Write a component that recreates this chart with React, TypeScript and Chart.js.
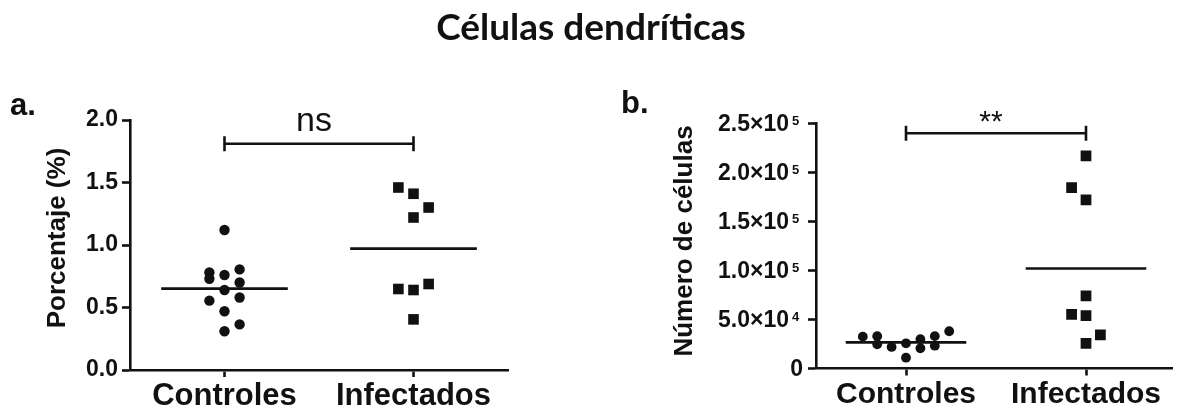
import { useEffect, useRef } from 'react';
import { Chart, registerables } from 'chart.js';

Chart.register(...registerables);

const W = 1180;
const H = 412;
const INK = '#111111';
const SANS = '"Liberation Sans", Arial, Helvetica, sans-serif';

const chartTitle = 'Células dendríticas';
const groups = ['Controles', 'Infectados'];

// a. Porcentaje (%) de células dendríticas
const pctControles = [1.12, 0.78, 0.73, 0.76, 0.805, 0.7, 0.64, 0.555, 0.58, 0.47, 0.365, 0.31];
const pctControlesCol = [0, -1, -1, 0, 1, 1, 0, -1, 1, 0, 1, 0];
const pctInfectados = [1.46, 1.41, 1.3, 1.22, 0.648, 0.64, 0.688, 0.405];
const pctInfectadosCol = [-1, 0, 1, 0, -1, 0, 1, 0];
const pctTicks = [0, 0.5, 1.0, 1.5, 2.0];
const pctTickLabels = ['0.0', '0.5', '1.0', '1.5', '2.0'];
const pctBracket = 1.81;
const pctSignif = 'ns';

// b. Número de células
const numControles = [32500, 33000, 24700, 22000, 25700, 11000, 30000, 20600, 33000, 23300, 38000];
const numControlesCol = [-3, -2, -2, -1, 0, 0, 1, 1, 2, 2, 3];
const numInfectados = [217000, 184500, 172000, 74000, 55300, 54000, 34200, 25700];
const numInfectadosCol = [0, -1, 0, 0, -1, 0, 1, 0];
const numTicks = [0, 50000, 100000, 150000, 200000, 250000];
const numTickMantissa = ['0', '5.0×10', '1.0×10', '1.5×10', '2.0×10', '2.5×10'];
const numTickExponent = ['', '4', '5', '5', '5', '5'];
const numBracket = 240000;
const numSignif = '**';

const mean = (xs: number[]) => xs.reduce((s, v) => s + v, 0) / xs.length;

type Panel = {
  controls: number[];
  controlsCol: number[];
  infected: number[];
  infectedCol: number[];
  yMax: number;
  yTicks: number[];
  yTickText: (i: number) => string;
  bracket: number;
  bracketText: string;
  bracketFont: string;
  bracketGap: number;
  area: { left: number; right: number; top: number; bottom: number };
  xMin: number;
  xMax: number;
  xFontSize: number;
  circleR: number;
  squareR: number;
  yTitle: string;
  yTitleX: number;
  yTitleY: number;
  letter: string;
  letterX: number;
  letterY: number;
  extra?: (ctx: CanvasRenderingContext2D, chart: any) => void;
};

const SLOT = 0.08; // horizontal spread between stacked points (category units)
const HALF_MEAN = 0.335; // half length of the mean bar (category units)

function buildChart(canvas: HTMLCanvasElement, p: Panel) {
  const pts = (vals: number[], cols: number[], center: number) =>
    vals.map((v, i) => ({ x: center + cols[i] * SLOT, y: v }));
  const meanLine = (vals: number[], center: number) => [
    { x: center - HALF_MEAN, y: mean(vals) },
    { x: center + HALF_MEAN, y: mean(vals) },
  ];

  const overlay = {
    id: 'overlay',
    afterDraw(chart: any) {
      const { ctx, scales } = chart;
      const x = scales.x;
      const y = scales.y;
      ctx.save();
      ctx.fillStyle = INK;
      ctx.strokeStyle = INK;

      // significance bracket
      const x0 = x.getPixelForValue(0);
      const x1 = x.getPixelForValue(1);
      const yb = y.getPixelForValue(p.bracket);
      ctx.lineWidth = 2.6;
      ctx.beginPath();
      ctx.moveTo(x0, yb);
      ctx.lineTo(x1, yb);
      ctx.moveTo(x0, yb - 7.5);
      ctx.lineTo(x0, yb + 7.5);
      ctx.moveTo(x1, yb - 7.5);
      ctx.lineTo(x1, yb + 7.5);
      ctx.stroke();
      ctx.font = p.bracketFont;
      ctx.textAlign = 'center';
      ctx.textBaseline = 'alphabetic';
      ctx.fillText(p.bracketText, (x0 + x1) / 2 - 5, yb - p.bracketGap);

      // y axis title
      ctx.save();
      ctx.translate(p.yTitleX, p.yTitleY);
      ctx.rotate(-Math.PI / 2);
      ctx.font = `bold 26px ${SANS}`;
      ctx.textAlign = 'center';
      ctx.textBaseline = 'middle';
      ctx.fillText(p.yTitle, 0, 0);
      ctx.restore();

      // panel letter
      ctx.textAlign = 'left';
      ctx.textBaseline = 'alphabetic';
      ctx.font = `bold 31px ${SANS}`;
      ctx.fillText(p.letter, p.letterX, p.letterY);

      if (p.extra) p.extra(ctx, chart);
      ctx.restore();
    },
  };

  return new Chart(canvas, {
    type: 'scatter',
    data: {
      datasets: [
        {
          data: pts(p.controls, p.controlsCol, 0),
          pointStyle: 'circle',
          pointRadius: p.circleR,
          pointHoverRadius: p.circleR,
          backgroundColor: INK,
          borderWidth: 0,
        },
        {
          data: pts(p.infected, p.infectedCol, 1),
          pointStyle: 'rect',
          pointRadius: p.squareR,
          pointHoverRadius: p.squareR,
          backgroundColor: INK,
          borderWidth: 0,
        },
        {
          data: meanLine(p.controls, 0),
          showLine: true,
          pointRadius: 0,
          borderColor: INK,
          borderWidth: 2.6,
        },
        {
          data: meanLine(p.infected, 1),
          showLine: true,
          pointRadius: 0,
          borderColor: INK,
          borderWidth: 2.6,
        },
      ],
    },
    options: {
      animation: false,
      responsive: false,
      devicePixelRatio: 1,
      events: [],
      layout: {
        padding: {
          left: 0,
          top: p.area.top,
          right: W - p.area.right,
          bottom: 0,
        },
      },
      plugins: {
        legend: { display: false },
        tooltip: { enabled: false },
        title: { display: false },
      },
      scales: {
        x: {
          type: 'linear',
          min: p.xMin,
          max: p.xMax,
          afterBuildTicks: (s: any) => {
            s.ticks = groups.map((_, i) => ({ value: i }));
          },
          afterFit: (s: any) => {
            s.height = H - p.area.bottom;
          },
          ticks: {
            callback: (v: any) => groups[Math.round(Number(v))],
            color: INK,
            font: { family: SANS, size: p.xFontSize, weight: 'bold' },
            padding: 1,
            maxRotation: 0,
            autoSkip: false,
          },
          grid: {
            drawOnChartArea: false,
            drawTicks: true,
            tickLength: 7,
            tickWidth: 2.6,
            tickColor: INK,
          },
          border: { display: true, color: INK, width: 2.6 },
        },
        y: {
          type: 'linear',
          min: 0,
          max: p.yMax,
          afterBuildTicks: (s: any) => {
            s.ticks = p.yTicks.map((v) => ({ value: v }));
          },
          afterFit: (s: any) => {
            s.width = p.area.left;
          },
          ticks: {
            callback: (_v: any, i: number) => p.yTickText(i),
            color: INK,
            font: { family: SANS, size: 23, weight: 'bold' },
            padding: 4,
          },
          grid: {
            drawOnChartArea: false,
            drawTicks: true,
            tickLength: 8,
            tickWidth: 2.6,
            tickColor: INK,
          },
          border: { display: true, color: INK, width: 2.6 },
        },
      },
    },
    plugins: [overlay],
  } as any);
}

const panelA: Panel = {
  controls: pctControles,
  controlsCol: pctControlesCol,
  infected: pctInfectados,
  infectedCol: pctInfectadosCol,
  yMax: 2,
  yTicks: pctTicks,
  yTickText: (i) => pctTickLabels[i],
  bracket: pctBracket,
  bracketText: pctSignif,
  bracketFont: `34px ${SANS}`,
  bracketGap: 13,
  area: { left: 130, right: 508, top: 120, bottom: 370 },
  xMin: -0.5,
  xMax: 1.5,
  xFontSize: 31,
  circleR: 5.2,
  squareR: 7.5,
  yTitle: 'Porcentaje (%)',
  yTitleX: 58,
  yTitleY: 238,
  letter: 'a.',
  letterX: 10,
  letterY: 115,
  extra: (ctx) => {
    ctx.font = `bold 37px Lato, "Open Sans", ${SANS}`;
    ctx.textAlign = 'center';
    ctx.textBaseline = 'alphabetic';
    ctx.fillText(chartTitle, 591, 40);
  },
};

const panelB: Panel = {
  controls: numControles,
  controlsCol: numControlesCol,
  infected: numInfectados,
  infectedCol: numInfectadosCol,
  yMax: 250000,
  yTicks: numTicks,
  yTickText: () => '',
  bracket: numBracket,
  bracketText: numSignif,
  bracketFont: `30px ${SANS}`,
  bracketGap: 2,
  area: { left: 816, right: 1180, top: 123.5, bottom: 368.5 },
  xMin: -0.5,
  xMax: 1.48,
  xFontSize: 30,
  circleR: 4.9,
  squareR: 7.6,
  yTitle: 'Número de células',
  yTitleX: 685,
  yTitleY: 241,
  letter: 'b.',
  letterX: 621,
  letterY: 113,
  extra: (ctx, chart) => {
    // tick labels written as mantissa × 10 with a raised exponent
    const y = chart.scales.y;
    const right = chart.chartArea.left - 27;
    numTicks.forEach((v, i) => {
      const py = y.getPixelForValue(v);
      ctx.textBaseline = 'middle';
      ctx.textAlign = 'right';
      ctx.font = `bold 23px ${SANS}`;
      if (numTickExponent[i]) {
        ctx.fillText(numTickMantissa[i], right, py + 1);
        ctx.textAlign = 'left';
        ctx.textBaseline = 'alphabetic';
        ctx.font = `bold 13px ${SANS}`;
        ctx.fillText(numTickExponent[i], right + 3, py + 1.5);
      } else {
        ctx.fillText(numTickMantissa[i], right + 14, py + 1);
      }
    });
  },
};

export default function App() {
  const refA = useRef<HTMLCanvasElement | null>(null);
  const refB = useRef<HTMLCanvasElement | null>(null);

  useEffect(() => {
    if (!refA.current || !refB.current) return;
    const a = buildChart(refA.current, panelA);
    const b = buildChart(refB.current, panelB);
    return () => {
      a.destroy();
      b.destroy();
    };
  }, []);

  const canvasStyle: React.CSSProperties = { position: 'absolute', left: 0, top: 0 };
  return (
    <div
      style={{
        position: 'fixed',
        left: 0,
        top: 0,
        width: W,
        height: H,
        overflow: 'hidden',
        background: '#ffffff',
      }}
    >
      <canvas ref={refA} width={W} height={H} style={canvasStyle} />
      <canvas ref={refB} width={W} height={H} style={canvasStyle} />
    </div>
  );
}
